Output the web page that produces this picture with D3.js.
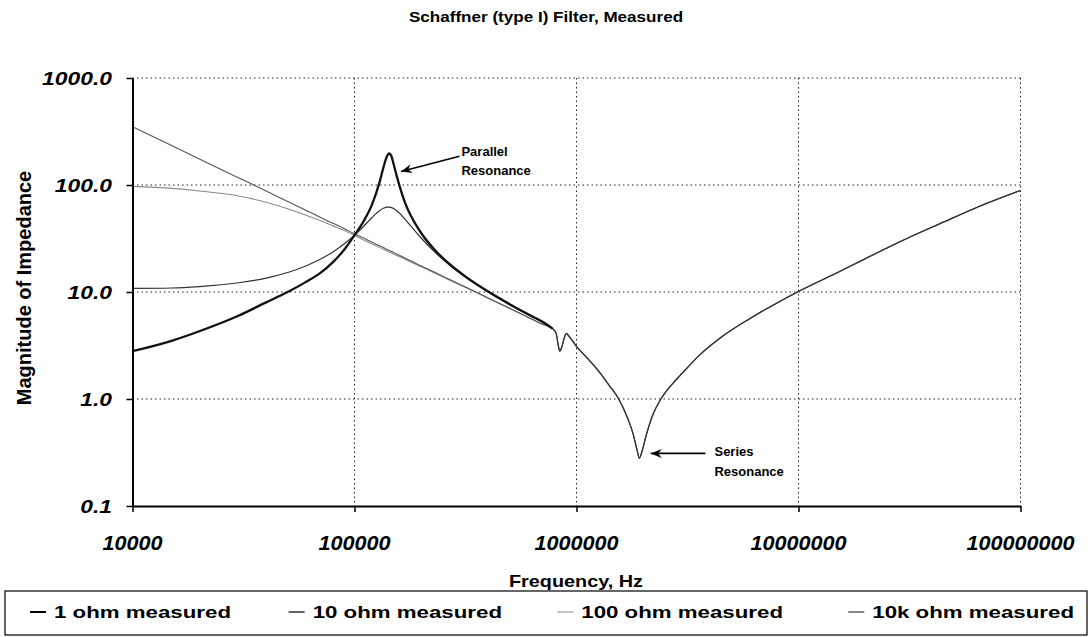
<!DOCTYPE html>
<html><head><meta charset="utf-8">
<script src="https://cdn.jsdelivr.net/npm/d3@7"></script>
<style>
body{margin:0;background:#fff;}
svg{display:block;}
text{font-family:"Liberation Sans",Arial,Helvetica,sans-serif;}
</style>
</head><body>
<svg id="c" width="1091" height="637"></svg>
<script>
// ---- data ----
const lowFreq = [10000,15000,20000,30000,40000,50000,60000,70000,80000,90000,
  100000,110000,120000,130000,135000,140000,143000,146000,150000,155000,
  160000,170000,180000,200000,230000,270000,320000,400000,500000,600000,700000];
const ohm1   = [2.8,3.5,4.3,6.0,8.0,10.0,12.3,15.0,19.0,25.0,
  34,46,66,108,146,186,197,190,157,121,
  96,66,51,35.4,24.7,18.0,13.7,10.1,7.7,6.25,5.3];
const ohm10  = [10.8,10.9,11.25,12.2,13.5,15.2,17.4,20.2,23.7,28.2,
  33.9,41.2,49.7,57.7,60.6,62.0,62.2,61.8,60.3,57.5,
  54.2,47.2,41.0,31.8,23.6,17.6,13.5,10.0,7.6,6.2,5.25];
const ohm100 = [97,93,88,79,69,60,52.5,46.5,41.5,37.5,
  34,30.6,28.1,26.0,25.1,24.2,23.7,23.3,22.6,21.9,
  21.3,20.1,19.0,17.2,15.0,12.8,10.9,8.75,7.0,5.85,5.0];
const ohm10k = [350,234,175,117,88,70,58.5,50,43.8,39,
  35,31.9,29.2,27.0,26.0,25.0,24.5,24.0,23.4,22.6,
  21.9,20.6,19.5,17.5,15.3,13.0,11.0,8.8,7.05,5.88,5.03];
// the 1 ohm trace stops here; the other three share the high-frequency part
const ohm1EndFreq = [780000];
const ohm1EndZ = [4.55];
const tailFreq = [780000,810000,825000,840000,860000,880000,900000,930000,1000000,1100000,
  1250000,1400000,1550000,1700000,1800000,1870000,1920000,1970000,2050000,2200000,
  2400000,2700000,3000000,3600000,4500000,6000000,8000000,10000000,15000000,20000000,
  31600000,45000000,65000000,100000000];
const tailZ = [4.55,4.1,3.3,2.8,3.1,3.7,4.1,3.8,3.1,2.5,
  1.85,1.35,1.0,0.66,0.47,0.34,0.28,0.32,0.44,0.7,
  1.0,1.38,1.75,2.6,3.8,5.6,7.9,10.1,15.2,20.5,
  32.5,45,63,89];
const seriesNames = ["1 ohm measured","10 ohm measured","100 ohm measured","10k ohm measured"];
const seriesValues = [ohm1, ohm10, ohm100, ohm10k];
const xTicks = [1e4,1e5,1e6,1e7,1e8];
const xTickLabels = ["10000","100000","1000000","10000000","100000000"];
const yTicks = [0.1,1,10,100,1000];
const yTickLabels = ["0.1","1.0","10.0","100.0","1000.0"];
const titleText = "Schaffner (type I) Filter, Measured";
const xTitle = "Frequency, Hz";
const yTitle = "Magnitude of Impedance";

// ---- styles ----
const lineStyles = [
  {color:"#111", w:2.3},
  {color:"#333", w:1.2},
  {color:"#8c8c8c", w:1.1},
  {color:"#555", w:1.1}
];

const svg = d3.select("#c");
svg.append("rect").attr("width",1091).attr("height",637).attr("fill","#fff");

const x = d3.scaleLog().domain([1e4,1e8]).range([132.5,1020.5]);
const y = d3.scaleLog().domain([0.1,1000]).range([506,78]);

function stext(g, px, py, str, o){
  return g.append("text")
    .attr("transform",`translate(${px},${py}) scale(${o.sx||1},1)`)
    .attr("text-anchor",o.anchor||"start")
    .style("font-size",o.size+"px")
    .style("font-weight",o.weight||"bold")
    .style("font-style",o.italic?"italic":"normal")
    .attr("fill","#000")
    .text(str);
}

// gridlines
const grid = svg.append("g");
yTicks.filter(v=>v>0.1).forEach(v=>{
  grid.append("line").attr("x1",x(1e4)).attr("x2",x(1e8)).attr("y1",y(v)).attr("y2",y(v))
    .attr("stroke","#222").attr("stroke-width",1).attr("stroke-dasharray","1.5,3");
});
xTicks.filter(v=>v>1e4).forEach(v=>{
  grid.append("line").attr("x1",x(v)).attr("x2",x(v)).attr("y1",y(1000)).attr("y2",y(0.1))
    .attr("stroke","#222").attr("stroke-width",1).attr("stroke-dasharray","1.5,3");
});

// series
const line = d3.line().x(d=>x(d[0])).y(d=>y(d[1])).curve(d3.curveMonotoneX);
const order = [2,3,1,0];
order.forEach(i=>{
  let pts = lowFreq.map((f,k)=>[f, seriesValues[i][k]]);
  if (i === 0) pts = pts.concat(ohm1EndFreq.map((f,k)=>[f, ohm1EndZ[k]]));
  else pts = pts.concat(tailFreq.map((f,k)=>[f, tailZ[k]]));
  svg.append("path").datum(pts).attr("d",line).attr("fill","none")
    .attr("stroke",lineStyles[i].color).attr("stroke-width",lineStyles[i].w)
    .attr("stroke-linejoin","round");
});

// axes
const xAxis = d3.axisBottom(x).tickValues(xTicks).tickSize(6).tickSizeOuter(0).tickFormat("");
const yAxis = d3.axisLeft(y).tickValues(yTicks).tickSize(6).tickSizeOuter(0).tickFormat("");
const gx = svg.append("g").attr("transform",`translate(0,${y(0.1)})`).call(xAxis);
const gy = svg.append("g").attr("transform",`translate(${x(1e4)},0)`).call(yAxis);
[gx,gy].forEach(g=>{
  g.select(".domain").attr("stroke","#000").attr("stroke-width",2);
  g.selectAll(".tick line").attr("stroke","#000").attr("stroke-width",1.5);
});

// tick labels
const lab = svg.append("g");
xTicks.forEach((v,i)=>stext(lab, x(v), 550, xTickLabels[i], {size:20, sx:1.08, anchor:"middle", italic:true}));
yTicks.forEach((v,i)=>stext(lab, 112, y(v)+6.5, yTickLabels[i], {size:18, sx:1.27, anchor:"end", italic:true}));

// titles
stext(svg, 546, 22, titleText, {size:14, sx:1.22, anchor:"middle"});
stext(svg, 576, 587, xTitle, {size:16, sx:1.24, anchor:"middle"});
svg.append("text").attr("transform","translate(31,288) rotate(-90)")
  .attr("text-anchor","middle").style("font-size","20px").style("font-weight","bold")
  .text(yTitle);

// annotations
const defs = svg.append("defs");
defs.append("marker").attr("id","ah").attr("viewBox","0 -5 12 10").attr("refX",11).attr("refY",0)
  .attr("markerWidth",13).attr("markerHeight",10).attr("markerUnits","userSpaceOnUse")
  .attr("orient","auto")
  .append("path").attr("d","M0,-4.5 L11,0 L0,4.5 L3.5,0 Z").attr("fill","#000");
const annotations = [
  {tip:[162000,134], tail:[297000,186], lines:["Parallel","Resonance"], dx:2, dy:-0.5},
  {tip:[2160000,0.31], tail:[3810000,0.31], lines:["Series","Resonance"], dx:9, dy:3}
];
annotations.forEach(a=>{
  const tx = x(a.tail[0]), ty = y(a.tail[1]);
  svg.append("line").attr("x1",tx).attr("y1",ty).attr("x2",x(a.tip[0])).attr("y2",y(a.tip[1]))
    .attr("stroke","#000").attr("stroke-width",1.6).attr("marker-end","url(#ah)");
  a.lines.forEach((s,k)=>stext(svg, tx+a.dx, ty+a.dy+k*19.5, s, {size:13}));
});

// legend
const lg = svg.append("g");
lg.append("rect").attr("x",5).attr("y",591).attr("width",1082).attr("height",44)
  .attr("fill","#fff").attr("stroke","#000").attr("stroke-width",1.2);
const legendEnd = [231,502,783,1074];
const legendStyles = [{c:"#000",w:2},{c:"#222",w:1.4},{c:"#888",w:1},{c:"#444",w:1.3}];
seriesNames.forEach((n,i)=>{
  const t = stext(lg, legendEnd[i], 618, n, {size:16.5, sx:1.35, anchor:"end"});
  const w = t.node().getComputedTextLength() * 1.35;
  const start = legendEnd[i] - w;
  lg.append("line").attr("x1",start-24).attr("x2",start-8).attr("y1",612).attr("y2",612)
    .attr("stroke",legendStyles[i].c).attr("stroke-width",legendStyles[i].w);
});
</script>
</body></html>
